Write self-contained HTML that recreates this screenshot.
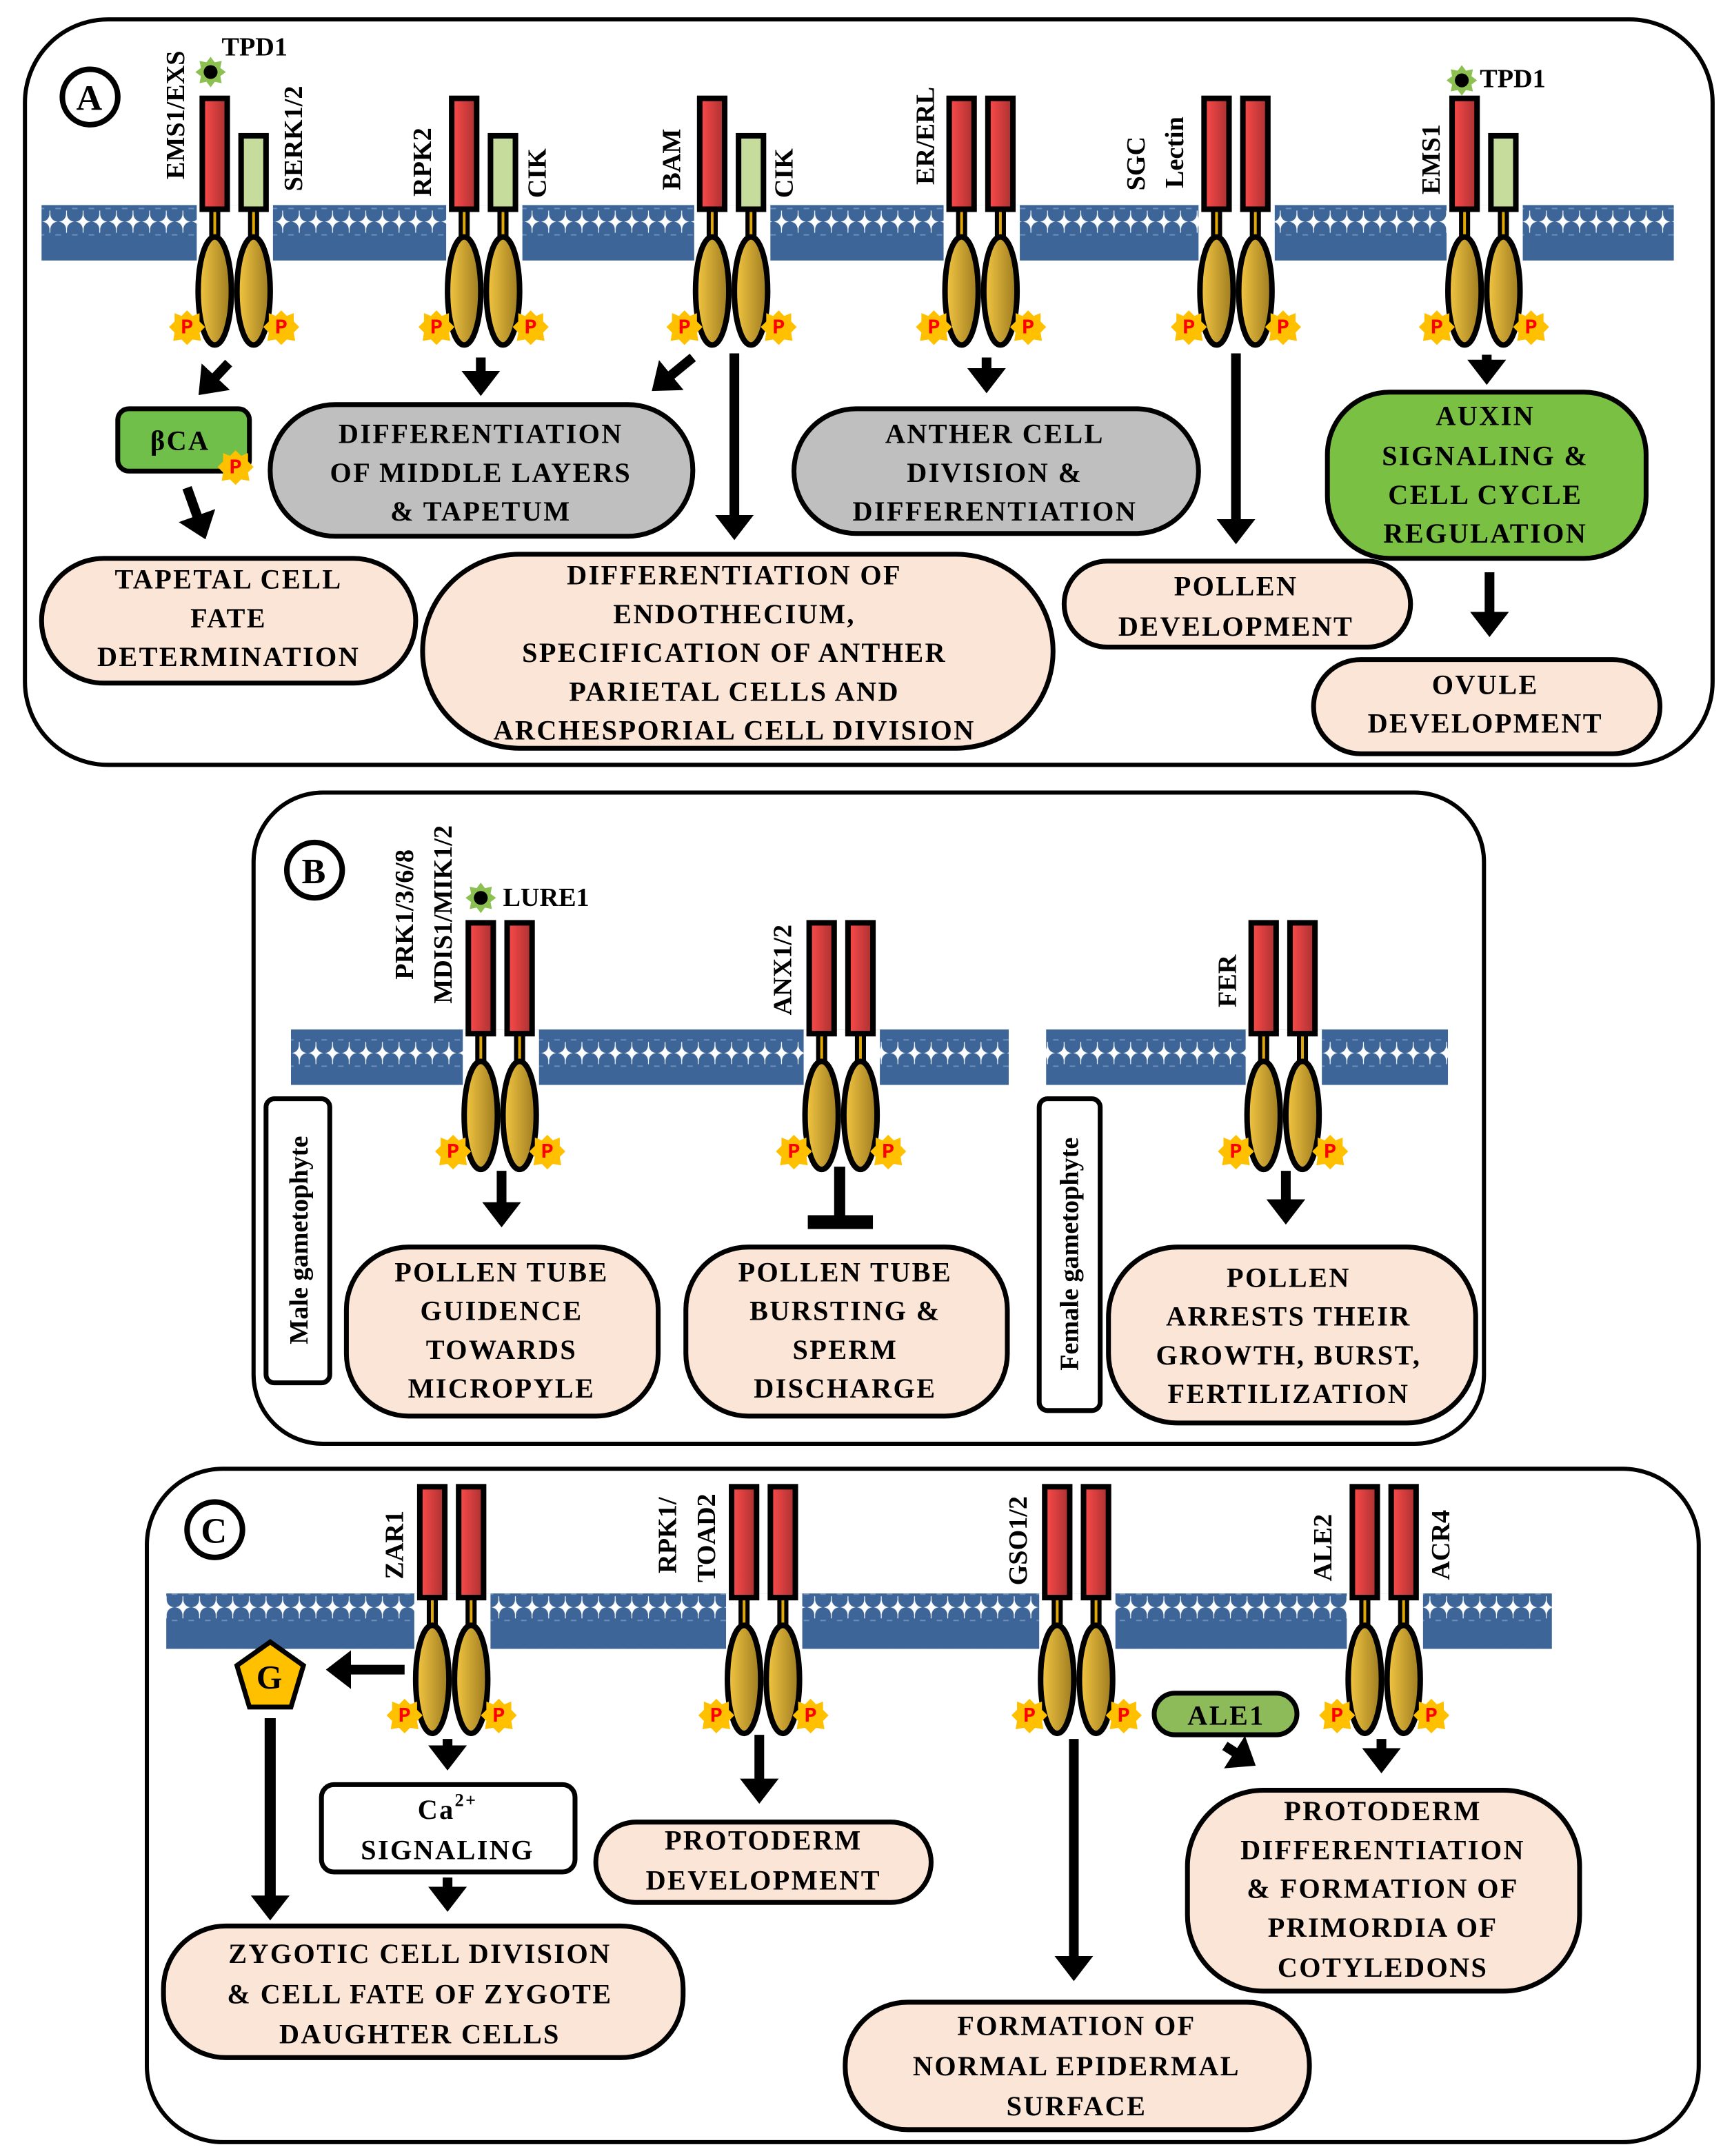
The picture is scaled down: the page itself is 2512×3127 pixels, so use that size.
<!DOCTYPE html>
<html><head><meta charset="utf-8"><style>
html,body{margin:0;padding:0;background:#fff}
svg{display:block}
text{font-family:"Liberation Serif",serif;font-weight:bold;fill:#000}
.t{font-size:20px;letter-spacing:1.2px;text-anchor:middle;dominant-baseline:central;font-family:"Liberation Serif",serif}
.l{font-size:19px;dominant-baseline:central}
.v{font-size:19px;text-anchor:middle;dominant-baseline:central}
.pk{fill:#fbe5d6;stroke:#000;stroke-width:3.5}
.gy{fill:#bfbfbf;stroke:#000;stroke-width:3.5}
.ar{stroke:#000;stroke-width:7;fill:none;marker-end:url(#ah)}
</style></head><body>
<svg width="2512" height="3127" viewBox="0 0 1250 1556" preserveAspectRatio="none" xmlns="http://www.w3.org/2000/svg">
<defs>
<marker id="ah" markerWidth="4" markerHeight="4" refX="1.2" refY="2" orient="auto" markerUnits="strokeWidth">
<path d="M0,0 L2.6,2 L0,4 Z" fill="#000"/></marker>
<pattern id="mem" x="0" y="0" width="12" height="40" patternUnits="userSpaceOnUse">
<rect x="0" y="8" width="12" height="24" fill="#3d6597"/>
<rect x="0.3" y="0" width="11.4" height="20" rx="5.5" fill="#3d6597"/>
<rect x="0.3" y="20" width="11.4" height="20" rx="5.5" fill="#3d6597"/>
<rect x="4" y="9" width="4" height="1" fill="#6d8fbb"/>
<rect x="4" y="30" width="4" height="1" fill="#6d8fbb"/>
</pattern>
<linearGradient id="gold" x1="0" x2="1"><stop offset="0" stop-color="#f5c842"/><stop offset="1" stop-color="#9c7a20"/></linearGradient>
<linearGradient id="red" x1="0" x2="1"><stop offset="0" stop-color="#ff4b4b"/><stop offset="1" stop-color="#a83030"/></linearGradient>
<g id="pb"><path d="M0,-12 L4,-8 L9,-10 L9,-4 L13,0 L9,4 L10,10 L4,9 L0,13 L-4,9 L-10,10 L-9,4 L-13,0 L-9,-4 L-9,-10 L-4,-8 Z" fill="#ffc000"/><text x="0" y="1" style="font-size:15px;fill:#f00;text-anchor:middle;dominant-baseline:central;font-family:'Liberation Mono',monospace">P</text></g>
<g id="rec">
<rect x="-13" y="-20" width="55" height="42" fill="#fff"/>
<rect x="-4" y="-18" width="8" height="26" fill="#000"/><rect x="-1" y="-18" width="2" height="26" fill="#e0a800"/>
<rect x="24" y="-18" width="8" height="26" fill="#000"/><rect x="27" y="-18" width="2" height="26" fill="#e0a800"/>
<ellipse cx="0" cy="42" rx="12" ry="39" fill="url(#gold)" stroke="#000" stroke-width="4"/>
<ellipse cx="28" cy="42" rx="12" ry="39" fill="url(#gold)" stroke="#000" stroke-width="4"/>
<use href="#pb" x="-20" y="68"/><use href="#pb" x="48" y="68"/>
</g>
<g id="rr"><rect x="-9" y="-97" width="18" height="80" fill="url(#red)" stroke="#000" stroke-width="4"/></g>
<g id="gr"><rect x="-9" y="-70" width="18" height="53" fill="#c5dc9d" stroke="#000" stroke-width="4"/></g>
<g id="star"><path d="M0,-11 L3,-7 L8,-8 L7,-3 L11,0 L7,3 L8,8 L3,7 L0,11 L-3,7 L-8,8 L-7,3 L-11,0 L-7,-3 L-8,-8 L-3,-7Z" fill="#8cc152"/><circle r="5" fill="#000"/></g>
</defs>

<!-- PANEL A -->
<rect x="18" y="14" width="1218" height="538" rx="60" fill="none" stroke="#000" stroke-width="3"/>
<circle cx="65" cy="70" r="20" fill="#fff" stroke="#000" stroke-width="4"/><text x="65" y="71" class="t" style="font-size:26px">A</text>
<rect x="30" y="148" width="1178" height="40" fill="url(#mem)"/>
<g transform="translate(155,168)"><use href="#rec"/><use href="#rr"/><use href="#gr" x="28"/></g>
<g transform="translate(335,168)"><use href="#rec"/><use href="#rr"/><use href="#gr" x="28"/></g>
<g transform="translate(514,168)"><use href="#rec"/><use href="#rr"/><use href="#gr" x="28"/></g>
<g transform="translate(694,168)"><use href="#rec"/><use href="#rr"/><use href="#rr" x="28"/></g>
<g transform="translate(878,168)"><use href="#rec"/><use href="#rr"/><use href="#rr" x="28"/></g>
<g transform="translate(1057,168)"><use href="#rec"/><use href="#rr"/><use href="#gr" x="28"/></g>
<use href="#star" x="152" y="52"/><text x="160" y="34" class="l">TPD1</text>
<use href="#star" x="1055" y="58"/><text x="1068" y="57" class="l">TPD1</text>
<text class="v" transform="translate(127,83) rotate(-90)">EMS1/EXS</text>
<text class="v" transform="translate(212,100) rotate(-90)">SERK1/2</text>
<text class="v" transform="translate(305,117) rotate(-90)">RPK2</text>
<text class="v" transform="translate(388,125) rotate(-90)">CIK</text>
<text class="v" transform="translate(485,115) rotate(-90)">BAM</text>
<text class="v" transform="translate(566,125) rotate(-90)">CIK</text>
<text class="v" transform="translate(668,98) rotate(-90)">ER/ERL</text>
<text class="v" transform="translate(820,118) rotate(-90)">SGC</text>
<text class="v" transform="translate(848,110) rotate(-90)">Lectin</text>
<text class="v" transform="translate(1033,115) rotate(-90)">EMS1</text>

<rect x="85" y="295" width="95" height="45" rx="8" fill="#6fbf4a" stroke="#000" stroke-width="3.5"/><text x="130" y="318" class="t">βCA</text>
<use href="#pb" x="170" y="337"/>
<rect x="30" y="403" width="270" height="90" rx="45" class="pk"/>
<text class="t" x="165" y="418">TAPETAL CELL</text><text class="t" x="165" y="446">FATE</text><text class="t" x="165" y="474">DETERMINATION</text>
<rect x="195" y="292" width="305" height="95" rx="47" class="gy"/>
<text class="t" x="347" y="313">DIFFERENTIATION</text><text class="t" x="347" y="341">OF MIDDLE LAYERS</text><text class="t" x="347" y="369">&amp; TAPETUM</text>
<rect x="305" y="400" width="455" height="140" rx="70" class="pk"/>
<text class="t" x="530" y="415">DIFFERENTIATION OF</text><text class="t" x="530" y="443">ENDOTHECIUM,</text><text class="t" x="530" y="471">SPECIFICATION OF ANTHER</text><text class="t" x="530" y="499">PARIETAL CELLS AND</text><text class="t" x="530" y="527">ARCHESPORIAL CELL DIVISION</text>
<rect x="573" y="295" width="292" height="90" rx="45" class="gy"/>
<text class="t" x="718" y="313">ANTHER CELL</text><text class="t" x="718" y="341">DIVISION &amp;</text><text class="t" x="718" y="369">DIFFERENTIATION</text>
<rect x="768" y="405" width="250" height="62" rx="31" class="pk"/>
<text class="t" x="892" y="423">POLLEN</text><text class="t" x="892" y="452">DEVELOPMENT</text>
<rect x="958" y="283" width="230" height="120" rx="45" fill="#7ac143" stroke="#000" stroke-width="3.5"/>
<text class="t" x="1072" y="300">AUXIN</text><text class="t" x="1072" y="329">SIGNALING &amp;</text><text class="t" x="1072" y="357">CELL CYCLE</text><text class="t" x="1072" y="385">REGULATION</text>
<rect x="948" y="476" width="250" height="68" rx="34" class="pk"/>
<text class="t" x="1072" y="494">OVULE</text><text class="t" x="1072" y="522">DEVELOPMENT</text>
<line class="ar" x1="165" y1="262" x2="150" y2="278"/>
<line class="ar" x1="135" y1="352" x2="145" y2="380"/>
<line class="ar" x1="347" y1="258" x2="347" y2="276"/>
<line class="ar" x1="500" y1="258" x2="478" y2="276"/>
<line class="ar" x1="530" y1="255" x2="530" y2="380"/>
<line class="ar" x1="712" y1="258" x2="712" y2="274"/>
<line class="ar" x1="892" y1="255" x2="892" y2="383"/>
<line class="ar" x1="1073" y1="256" x2="1073" y2="268"/>
<line class="ar" x1="1075" y1="413" x2="1075" y2="450"/>

<!-- PANEL B -->
<rect x="183" y="572" width="888" height="470" rx="50" fill="none" stroke="#000" stroke-width="3"/>
<circle cx="227" cy="628" r="20" fill="#fff" stroke="#000" stroke-width="4"/><text x="227" y="629" class="t" style="font-size:26px">B</text>
<rect x="210" y="743" width="518" height="40" fill="url(#mem)"/>
<rect x="755" y="743" width="290" height="40" fill="url(#mem)"/>
<g transform="translate(347,763)"><use href="#rec"/><use href="#rr"/><use href="#rr" x="28"/></g>
<g transform="translate(593,763)"><use href="#rec"/><use href="#rr"/><use href="#rr" x="28"/></g>
<g transform="translate(912,763)"><use href="#rec"/><use href="#rr"/><use href="#rr" x="28"/></g>
<use href="#star" x="347" y="648"/><text x="363" y="648" class="l">LURE1</text>
<text class="v" transform="translate(292,660) rotate(-90)">PRK1/3/6/8</text>
<text class="v" transform="translate(320,660) rotate(-90)">MDIS1/MIK1/2</text>
<text class="v" transform="translate(565,700) rotate(-90)">ANX1/2</text>
<text class="v" transform="translate(886,708) rotate(-90)">FER</text>
<rect x="192" y="793" width="46" height="205" rx="6" fill="#fff" stroke="#000" stroke-width="3.5"/>
<text class="v" transform="translate(216,895) rotate(-90)">Male gametophyte</text>
<rect x="750" y="793" width="44" height="225" rx="6" fill="#fff" stroke="#000" stroke-width="3.5"/>
<text class="v" transform="translate(772,905) rotate(-90)">Female gametophyte</text>
<rect x="250" y="900" width="225" height="122" rx="45" class="pk"/>
<text class="t" x="362" y="918">POLLEN TUBE</text><text class="t" x="362" y="946">GUIDENCE</text><text class="t" x="362" y="974">TOWARDS</text><text class="t" x="362" y="1002">MICROPYLE</text>
<rect x="495" y="900" width="232" height="122" rx="45" class="pk"/>
<text class="t" x="610" y="918">POLLEN TUBE</text><text class="t" x="610" y="946">BURSTING &amp;</text><text class="t" x="610" y="974">SPERM</text><text class="t" x="610" y="1002">DISCHARGE</text>
<rect x="800" y="900" width="265" height="127" rx="50" class="pk"/>
<text class="t" x="930" y="922">POLLEN</text><text class="t" x="930" y="950">ARRESTS THEIR</text><text class="t" x="930" y="978">GROWTH, BURST,</text><text class="t" x="930" y="1006">FERTILIZATION</text>
<line class="ar" x1="362" y1="845" x2="362" y2="876"/>
<line class="ar" x1="928" y1="845" x2="928" y2="874"/>
<line x1="606" y1="842" x2="606" y2="880" stroke="#000" stroke-width="8"/>
<line x1="583" y1="882" x2="630" y2="882" stroke="#000" stroke-width="10"/>

<!-- PANEL C -->
<rect x="106" y="1060" width="1120" height="486" rx="55" fill="none" stroke="#000" stroke-width="3"/>
<circle cx="155" cy="1104" r="20" fill="#fff" stroke="#000" stroke-width="4"/><text x="155" y="1105" class="t" style="font-size:26px">C</text>
<rect x="120" y="1150" width="1000" height="40" fill="url(#mem)"/>
<g transform="translate(312,1170)"><use href="#rec"/><use href="#rr"/><use href="#rr" x="28"/></g>
<g transform="translate(537,1170)"><use href="#rec"/><use href="#rr"/><use href="#rr" x="28"/></g>
<g transform="translate(763,1170)"><use href="#rec"/><use href="#rr"/><use href="#rr" x="28"/></g>
<g transform="translate(985,1170)"><use href="#rec"/><use href="#rr"/><use href="#rr" x="28"/></g>
<text class="v" transform="translate(285,1115) rotate(-90)">ZAR1</text>
<text class="v" transform="translate(482,1108) rotate(-90)">RPK1/</text>
<text class="v" transform="translate(510,1110) rotate(-90)">TOAD2</text>
<text class="v" transform="translate(735,1112) rotate(-90)">GSO1/2</text>
<text class="v" transform="translate(955,1117) rotate(-90)">ALE2</text>
<text class="v" transform="translate(1040,1115) rotate(-90)">ACR4</text>
<path d="M195,1185 L219,1202 L210,1232 L180,1232 L171,1202 Z" fill="#ffc000" stroke="#000" stroke-width="3.5"/>
<text x="195" y="1211" class="t" style="font-size:24px">G</text>
<line class="ar" x1="292" y1="1205" x2="245" y2="1205"/>
<line x1="195" y1="1240" x2="195" y2="1370" stroke="#000" stroke-width="8"/>
<path d="M181,1368 L209,1368 L195,1386 Z" fill="#000"/>
<rect x="232" y="1288" width="183" height="63" rx="9" fill="#fff" stroke="#000" stroke-width="3.5"/>
<text class="t" x="323" y="1306">Ca<tspan dy="-7" style="font-size:13px">2+</tspan></text><text class="t" x="323" y="1335">SIGNALING</text>
<line class="ar" x1="323" y1="1255" x2="323" y2="1268"/>
<line class="ar" x1="323" y1="1355" x2="323" y2="1370"/>
<rect x="118" y="1390" width="375" height="95" rx="45" class="pk"/>
<text class="t" x="303" y="1410">ZYGOTIC CELL DIVISION</text><text class="t" x="303" y="1439">&amp; CELL FATE OF ZYGOTE</text><text class="t" x="303" y="1468">DAUGHTER CELLS</text>
<rect x="430" y="1315" width="242" height="58" rx="29" class="pk"/>
<text class="t" x="551" y="1328">PROTODERM</text><text class="t" x="551" y="1357">DEVELOPMENT</text>
<line class="ar" x1="548" y1="1252" x2="548" y2="1292"/>
<line class="ar" x1="775" y1="1255" x2="775" y2="1420"/>
<rect x="610" y="1445" width="335" height="92" rx="45" class="pk"/>
<text class="t" x="777" y="1462">FORMATION OF</text><text class="t" x="777" y="1491">NORMAL EPIDERMAL</text><text class="t" x="777" y="1520">SURFACE</text>
<rect x="833" y="1222" width="103" height="30" rx="15" fill="#8dbb5a" stroke="#000" stroke-width="3.5"/>
<text class="t" x="885" y="1238">ALE1</text>
<line class="ar" x1="884" y1="1260" x2="898" y2="1269"/>
<line class="ar" x1="997" y1="1255" x2="997" y2="1270"/>
<rect x="857" y="1292" width="283" height="145" rx="55" class="pk"/>
<text class="t" x="998" y="1307">PROTODERM</text><text class="t" x="998" y="1335">DIFFERENTIATION</text><text class="t" x="998" y="1363">&amp; FORMATION OF</text><text class="t" x="998" y="1391">PRIMORDIA OF</text><text class="t" x="998" y="1420">COTYLEDONS</text>
</svg>
</body></html>
